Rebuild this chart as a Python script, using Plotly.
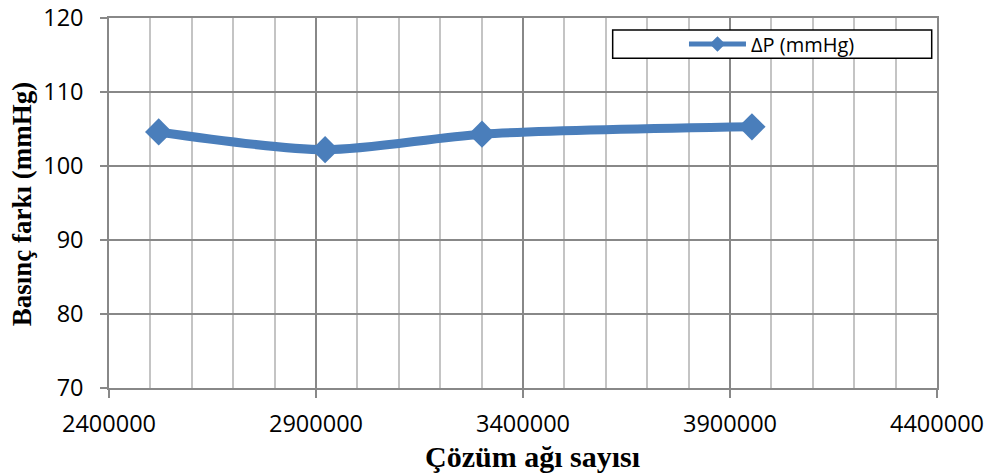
import plotly.graph_objects as go

# Mesh-independence study: pressure drop vs. number of mesh cells
mesh_cells = [2520000, 2922000, 3301000, 3953000]
pressure_drop = [104.6, 102.2, 104.3, 105.3]

series_name = "ΔP (mmHg)"
x_title = "Çözüm ağı sayısı"
y_title = "Basınç farkı (mmHg)"

x_ticks = [2400000, 2900000, 3400000, 3900000, 4400000]
y_ticks = [70, 80, 90, 100, 110, 120]

BLUE = "#4a7ebb"
MAJOR = "#888888"
MINOR = "#c4c4c4"
TICK_FONT = dict(family="Open Sans", size=23.5, color="black")
TITLE_FONT = dict(family="Liberation Serif", color="black", weight="bold")

fig = go.Figure()
fig.add_trace(go.Scatter(
    x=mesh_cells,
    y=pressure_drop,
    mode="lines+markers",
    name=series_name,
    line=dict(color=BLUE, width=9, shape="spline", smoothing=0.8),
    marker=dict(symbol="diamond", size=21, color=BLUE),
))

# legend frame
fig.add_shape(
    type="rect", xref="paper", yref="paper",
    x0=0.6083, x1=0.9936, y0=0.8915, y1=0.9676,
    line=dict(color="black", width=1.5), fillcolor="white", layer="above",
)

# axis titles
fig.add_annotation(
    text=x_title, xref="paper", yref="paper", x=0.5109, y=-0.1862,
    xanchor="center", yanchor="middle", showarrow=False,
    font=dict(TITLE_FONT, size=30),
)
fig.add_annotation(
    text=y_title, xref="paper", yref="paper", x=-0.1051, y=0.4966,
    xanchor="center", yanchor="middle", showarrow=False, textangle=-90,
    font=dict(TITLE_FONT, size=27),
)

fig.update_layout(
    width=995, height=473,
    margin=dict(l=109, r=58, t=18, b=85),
    paper_bgcolor="white",
    plot_bgcolor="white",
    showlegend=True,
    legend=dict(
        x=0.8007, y=0.9298, xanchor="center", yanchor="middle",
        bgcolor="rgba(0,0,0,0)", borderwidth=0,
        font=dict(family="Open Sans", size=20, color="black"),
        itemwidth=57, itemsizing="constant",
    ),
    xaxis=dict(
        range=[2400000, 4400000],
        tickvals=x_ticks,
        ticktext=[str(v) for v in x_ticks],
        showgrid=True, gridcolor=MAJOR, gridwidth=1.5,
        minor=dict(dtick=100000, tick0=2400000, showgrid=True,
                   gridcolor=MINOR, gridwidth=1.5, ticks=""),
        showline=True, linecolor=MAJOR, linewidth=1.5, mirror=True,
        ticks="outside", ticklen=8, tickcolor=MAJOR, tickwidth=1.5,
        tickfont=TICK_FONT,
        ticklabelstandoff=6, ticklabeloverflow="allow",
        zeroline=False, automargin=False,
    ),
    yaxis=dict(
        range=[70, 120],
        tickvals=y_ticks,
        showgrid=True, gridcolor=MAJOR, gridwidth=1.5,
        showline=True, linecolor=MAJOR, linewidth=1.5, mirror=True,
        ticks="outside", ticklen=7, tickcolor=MAJOR, tickwidth=1.5,
        tickfont=TICK_FONT,
        ticklabelstandoff=12, ticklabeloverflow="allow",
        zeroline=False, automargin=False,
    ),
)

fig.write_html("out.html")
